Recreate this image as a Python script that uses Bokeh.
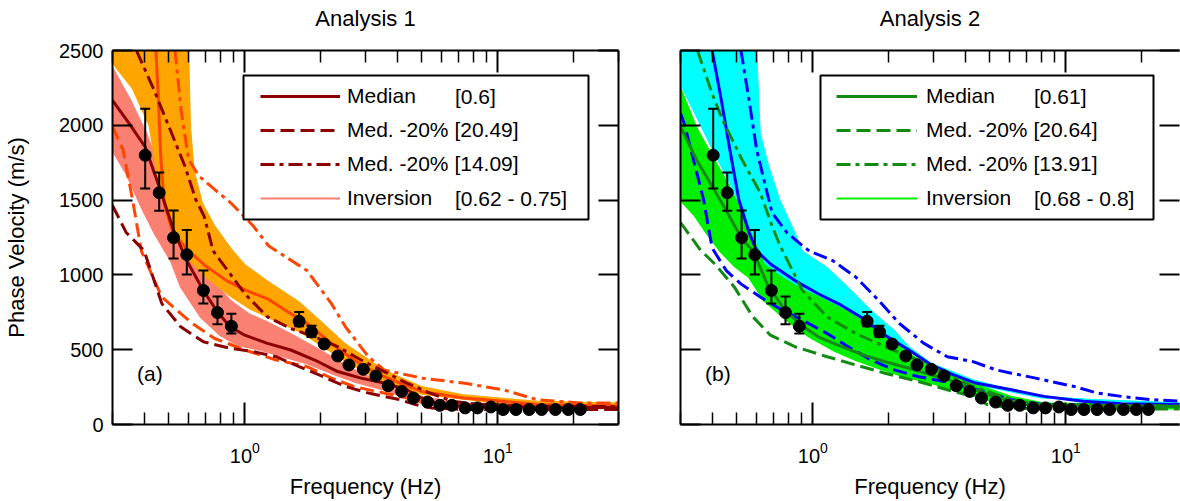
import numpy as np
from bokeh.plotting import figure
from bokeh.layouts import row
from bokeh.models import (LogAxis, LinearAxis, FixedTicker, Range1d, Legend,
                          LegendItem, Label, BoxAnnotation, Whisker, TeeHead, ColumnDataSource)
from bokeh.embed import file_html
from bokeh.resources import INLINE

# ---------------- observed dispersion data (same in both panels) ----------------
obs_freq = [0.404, 0.459, 0.523, 0.590, 0.686, 0.780, 0.885, 1.64, 1.835, 2.06, 2.33, 2.58,
            2.94, 3.30, 3.69, 4.17, 4.64, 5.28, 5.90, 6.58, 7.43, 8.31, 9.39, 10.5, 11.8,
            13.3, 14.9, 16.9, 19.0, 21.2]
obs_vel = [1800, 1549, 1249, 1135, 896, 748, 657, 690, 619, 538, 458, 398, 369, 325, 259,
           221, 177, 150, 128, 128, 111, 111, 117, 100, 100, 100, 100, 100, 100, 100]
nan = float("nan")
obs_err_low = [1578, 1429, 1110, 1002, 808, 670, 608, 657, 585] + [nan] * 21
obs_err_high = [2111, 1684, 1430, 1300, 1029, 856, 741, 752, 660] + [nan] * 21

# ---------------- Analysis 1 ----------------
a1_med_f = [0.3, 0.35, 0.404, 0.459, 0.523, 0.59, 0.686, 0.78, 0.875, 1.0, 1.23, 1.52, 1.89,
            2.33, 2.88, 3.55, 4.37, 5.0, 6.0, 7.1, 10.3, 14.3, 30]
a1_med_v = [2167, 2010, 1855, 1590, 1300, 1095, 896, 752, 653, 597, 542, 498, 431, 354, 310,
            277, 232, 177, 133, 122, 118, 115, 112]
a1_lo_f = [0.3, 0.34, 0.40, 0.47, 0.558, 0.686, 0.875, 1.08, 1.33, 1.64, 2.03, 2.5, 3.08,
           4.1, 4.73, 5.46, 7.3, 30]
a1_lo_v = [1464, 1283, 1162, 808, 653, 553, 509, 487, 453, 387, 321, 254, 210, 166, 133,
           111, 100, 100]
a1_hi_f = [0.373, 0.438, 0.52, 0.58, 0.64, 0.69, 0.75, 1.0, 1.23, 1.52, 1.89, 2.33, 2.88,
           3.55, 4.37, 5.4, 6.65, 8.5, 14.3, 30]
a1_hi_v = [2500, 2235, 1925, 1726, 1504, 1394, 1160, 874, 719, 641, 586, 520, 431, 354, 277,
           210, 155, 133, 122, 120]
a1b_med_f = [0.445, 0.455, 0.465, 0.48, 0.52, 0.6, 0.7, 0.85, 1.0, 1.23, 1.52, 1.76, 2.2,
             2.7, 3.3, 4.1, 5.0, 7.3, 10.5, 14.3, 30]
a1b_med_v = [2500, 2200, 1800, 1480, 1280, 1160, 1060, 960, 900, 840, 740, 676, 542, 431,
             343, 277, 221, 177, 155, 133, 122]
a1b_lo_f = [0.3, 0.33, 0.36, 0.39, 0.47, 0.62, 0.76, 1.0, 1.33, 1.76, 2.2, 2.7, 3.55, 5.0,
            7.3, 30]
a1b_lo_v = [1991, 1836, 1504, 1160, 852, 675, 575, 498, 431, 387, 310, 254, 210, 155, 133, 122]
a1b_hi_f = [0.53, 0.56, 0.6, 0.66, 0.76, 0.88, 1.08, 1.24, 1.33, 1.76, 2.2, 2.5, 3.08, 3.55,
            5.0, 7.3, 10.5, 14.3, 21, 30]
a1b_hi_v = [2500, 2100, 1770, 1659, 1571, 1482, 1327, 1195, 1162, 1029, 808, 653, 453, 365,
            310, 277, 232, 166, 144, 144]
# inversion envelopes
a1_inv_up_f = [0.3, 0.355, 0.41, 0.47, 0.52, 0.56, 0.69, 0.88, 1.04, 1.23, 1.52, 1.89, 2.33,
               2.88, 3.55, 4.37, 5.0, 7.3, 30]
a1_inv_up_v = [2389, 2167, 1944, 1678, 1411, 1200, 1029, 830, 741, 686, 608, 520, 431, 343,
               288, 232, 188, 144, 133]
a1_inv_lo_f = [0.3, 0.34, 0.39, 0.44, 0.51, 0.56, 0.67, 0.8, 0.94, 1.16, 1.43, 1.76, 2.2,
               2.7, 3.55, 4.37, 5.0, 7.3, 30]
a1_inv_lo_v = [1833, 1678, 1456, 1278, 1095, 918, 719, 597, 531, 498, 453, 409, 343, 288,
               232, 177, 144, 122, 111]
a1b_inv_up_f = [0.3, 0.6, 0.61, 0.63, 0.68, 0.76, 0.88, 1.0, 1.23, 1.64, 1.97, 2.5, 3.55, 5.0,
                7.3, 14.3, 30]
a1b_inv_up_v = [2500, 2500, 2000, 1700, 1480, 1330, 1180, 1070, 960, 820, 700, 540, 365, 254,
                199, 155, 144]
a1b_inv_lo_f = [0.3, 0.36, 0.42, 0.46, 0.5, 0.59, 0.7, 0.88, 1.05, 1.23, 1.64, 2.03, 2.5,
                3.55, 5.0, 10.5, 30]
a1b_inv_lo_v = [2420, 2250, 2000, 1600, 1350, 1120, 990, 860, 775, 720, 625, 525, 425, 285,
                205, 140, 128]

# ---------------- Analysis 2 ----------------
a2_med_f = [0.3, 0.347, 0.40, 0.46, 0.525, 0.58, 0.66, 0.76, 0.88, 1.05, 1.3, 1.58, 1.93,
            2.4, 2.94, 3.6, 4.4, 5.4, 6.9, 9.9, 30]
a2_med_v = [1991, 1770, 1593, 1416, 1239, 1160, 940, 785, 675, 586, 520, 465, 420, 376, 332,
            288, 232, 177, 139, 126, 122]
a2_lo_f = [0.3, 0.36, 0.41, 0.49, 0.58, 0.68, 0.85, 1.14, 1.48, 1.93, 2.6, 3.4, 4.3, 4.9,
           6.1, 8.2, 30]
a2_lo_v = [1350, 1165, 1073, 918, 719, 597, 520, 453, 398, 343, 288, 232, 188, 133, 111,
           104, 104]
a2_hi_f = [0.35, 0.40, 0.44, 0.525, 0.62, 0.69, 0.74, 0.91, 1.14, 1.48, 1.93, 2.6, 3.4, 4.3,
           5.3, 6.6, 8.2, 30]
a2_hi_v = [2500, 2212, 2035, 1770, 1549, 1327, 1200, 896, 719, 608, 520, 431, 332, 254, 199,
           155, 133, 122]
a2b_med_f = [0.40, 0.435, 0.47, 0.51, 0.56, 0.6, 0.68, 0.85, 1.05, 1.3, 1.58, 1.93, 2.4,
             2.94, 3.6, 4.4, 6.1, 8.2, 11.7, 16.6, 30]
a2b_med_v = [2500, 2167, 1836, 1504, 1283, 1160, 1073, 962, 874, 796, 708, 597, 498, 398,
             332, 277, 232, 188, 155, 139, 133]
a2b_lo_f = [0.3, 0.31, 0.33, 0.37, 0.40, 0.455, 0.52, 0.62, 0.74, 0.91, 1.14, 1.38, 1.7, 2.1,
            2.6, 3.3, 4.0, 5.0, 6.1, 8.2, 30]
a2b_lo_v = [2080, 2013, 1836, 1504, 1180, 1029, 940, 852, 774, 697, 608, 520, 431, 365, 321,
            288, 254, 210, 166, 133, 122]
a2b_hi_f = [0.52, 0.56, 0.60, 0.65, 0.69, 0.79, 0.91, 0.97, 1.2, 1.48, 1.82, 2.2, 2.75, 3.4,
            4.3, 5.3, 6.1, 7.6, 9.3, 10.8, 13.3, 16.6, 21.6, 30]
a2b_hi_v = [2500, 2167, 1836, 1593, 1416, 1283, 1195, 1160, 1095, 985, 830, 675, 542, 453,
            420, 365, 343, 310, 277, 254, 210, 188, 166, 155]
a2_inv_up_f = [0.3, 0.347, 0.40, 0.46, 0.525, 0.6, 0.68, 0.85, 1.05, 1.3, 1.58, 1.93, 2.4,
               2.94, 4.3, 6.1, 8.2, 30]
a2_inv_up_v = [2257, 1990, 1800, 1620, 1430, 1250, 1130, 985, 874, 790, 710, 600, 476, 387,
               277, 188, 144, 133]
a2_inv_lo_f = [0.3, 0.34, 0.38, 0.43, 0.49, 0.56, 0.64, 0.79, 0.97, 1.2, 1.48, 1.82, 2.3,
               2.94, 3.6, 4.4, 5.4, 8.2, 30]
a2_inv_lo_v = [1500, 1400, 1280, 1160, 1060, 985, 830, 697, 586, 498, 431, 376, 321, 277,
               232, 188, 144, 122, 104]
a2b_inv_up_f = [0.3, 0.6, 0.62, 0.67, 0.74, 0.85, 0.91, 1.14, 1.38, 1.7, 2.1, 2.4, 2.94, 4.3,
                6.1, 8.2, 12.4, 30]
a2b_inv_up_v = [2500, 2500, 1947, 1726, 1504, 1283, 1160, 1050, 918, 763, 630, 520, 409,
                299, 232, 188, 166, 144]
a2b_inv_lo_f = [0.3, 0.35, 0.40, 0.46, 0.525, 0.58, 0.65, 0.75, 0.9, 1.1, 1.4, 1.8, 2.2,
                2.8, 3.6, 5.0, 8.0, 30]
a2b_inv_lo_v = [2280, 2050, 1850, 1650, 1450, 1280, 1080, 1000, 920, 850, 760, 640, 540,
                420, 330, 250, 180, 135]

y_ticks = [0, 500, 1000, 1500, 2000, 2500]
x_major_ticks = [1, 10]
x_minor_ticks = [0.3, 0.4, 0.5, 0.6, 0.7, 0.8, 0.9, 2, 3, 4, 5, 6, 7, 8, 9, 20, 30]

# ---------------- layout constants ----------------
FONT = "Liberation Sans"
X_MIN = 0.3
DEC_PX = 253.0
FRAME_TOP, FRAME_BOTTOM = 50, 424
DASHED = "14 6"
DASHDOT = "14 5 4 5"


def px_to_f(px_rel):
    return X_MIN * 10 ** (px_rel / DEC_PX)


def py_to_v(py):
    return (FRAME_BOTTOM - py) * 2500.0 / (FRAME_BOTTOM - FRAME_TOP)


def style_axis(ax, tick_in, minor_in, labels=True):
    ax.axis_line_width = 2
    ax.axis_line_color = "black"
    ax.major_tick_line_width = 2
    ax.major_tick_line_color = "black"
    ax.minor_tick_line_width = 1.5
    ax.minor_tick_line_color = "black"
    ax.major_tick_in = tick_in
    ax.major_tick_out = 0
    ax.minor_tick_in = minor_in
    ax.minor_tick_out = 0
    ax.major_label_text_font = FONT
    ax.major_label_text_color = "black"
    ax.axis_label_text_font = FONT
    ax.axis_label_text_font_style = "normal"
    ax.axis_label_text_color = "black"
    if labels:
        ax.major_label_text_font_size = "20px"
    else:
        ax.major_label_text_font_size = "1px"
        ax.major_label_text_alpha = 0
        ax.major_label_standoff = 0


def build_panel(cfg):
    p = figure(width=cfg["width"], height=501, x_axis_type="log",
               x_range=Range1d(X_MIN, cfg["xmax"]), y_range=Range1d(0, 2500),
               min_border_left=cfg["border_left"], min_border_right=cfg["border_right"],
               min_border_top=50, min_border_bottom=77,
               toolbar_location=None, output_backend="svg")
    p.outline_line_color = None
    p.xgrid.visible = False
    p.ygrid.visible = False
    p.background_fill_color = "white"
    p.border_fill_color = "white"

    # inversion bands
    inv_line = None
    for up_f, up_v, lo_f, lo_v, color in cfg["bands"]:
        xs = list(up_f) + list(lo_f)[::-1]
        ys = list(up_v) + list(lo_v)[::-1]
        p.patch(xs, ys, fill_color=color, line_color=color, line_width=1)
        r = p.line(lo_f, lo_v, line_color=color, line_width=2)
        if inv_line is None:
            inv_line = r

    # median / +-20 % curves
    rends = []
    for f, v, color, dash in cfg["lines"]:
        rends.append(p.line(f, v, line_color=color, line_width=3, line_dash=dash))

    # observations
    f_arr = np.array(obs_freq)
    lo_arr = np.array(obs_err_low)
    hi_arr = np.array(obs_err_high)
    m = ~np.isnan(lo_arr)
    src = ColumnDataSource(dict(f=f_arr[m], lo=lo_arr[m], hi=hi_arr[m]))
    wh = Whisker(source=src, base="f", lower="lo", upper="hi", dimension="height",
                 line_color="black", line_width=2, level="overlay",
                 upper_head=TeeHead(size=10, line_color="black", line_width=2),
                 lower_head=TeeHead(size=10, line_color="black", line_width=2))
    p.add_layout(wh)
    p.scatter(obs_freq, obs_vel, size=12, marker="circle", fill_color="black",
              line_color="black", level="overlay")

    # axes
    xb = p.xaxis[0]
    xb.ticker = FixedTicker(ticks=x_major_ticks, minor_ticks=x_minor_ticks)
    style_axis(xb, 22, 12)
    xb.axis_label = "Frequency (Hz)"
    xb.axis_label_text_font_size = "22px"
    xb.major_label_standoff = 17
    xb.axis_label_standoff = 8

    xt = LogAxis(ticker=FixedTicker(ticks=x_major_ticks, minor_ticks=x_minor_ticks),
                 axis_label=cfg["title"])
    style_axis(xt, 22, 12, labels=False)
    xt.axis_label_text_font_size = "22px"
    xt.axis_label_standoff = 20
    p.add_layout(xt, "above")

    yl = p.yaxis[0]
    yl.ticker = FixedTicker(ticks=y_ticks)
    style_axis(yl, 20, 0, labels=cfg["ylabels"])
    if cfg["ylabels"]:
        yl.axis_label = "Phase Velocity (m/s)"
        yl.axis_label_text_font_size = "22px"
        yl.major_label_standoff = 9
        yl.axis_label_standoff = 27

    yr = LinearAxis(ticker=FixedTicker(ticks=y_ticks))
    style_axis(yr, 20, 0, labels=False)
    if cfg["hide_right_line"]:
        yr.axis_line_alpha = 0
    p.add_layout(yr, "right")

    # legend frame
    lg = cfg["legend"]
    box = BoxAnnotation(left=px_to_f(lg["box"][0]), right=px_to_f(lg["box"][1]),
                        top=py_to_v(lg["box"][2]), bottom=py_to_v(lg["box"][3]),
                        fill_color="white", fill_alpha=1.0, line_color="black",
                        line_width=2, line_alpha=1.0)
    p.add_layout(box)
    items = [LegendItem(label=lg["labels"][0], renderers=[rends[3]]),
             LegendItem(label=lg["labels"][1], renderers=[rends[4]]),
             LegendItem(label=lg["labels"][2], renderers=[rends[5]]),
             LegendItem(label=lg["labels"][3], renderers=[inv_line])]
    leg = Legend(items=items, location=(lg["glyph_x"], lg["vy"]), padding=0, margin=0,
                 spacing=10, glyph_width=lg["glyph_w"], glyph_height=24, label_height=24,
                 label_standoff=lg["standoff"], label_text_font=FONT,
                 label_text_font_size="21px", label_text_color="black",
                 border_line_alpha=0, background_fill_alpha=0)
    p.add_layout(leg, "center")
    for text, row_y in zip(lg["brackets"], lg["bracket_rows"]):
        p.add_layout(Label(x=px_to_f(lg["bracket_x"]), y=py_to_v(row_y), text=text,
                           text_font=FONT, text_font_size="21px", text_color="black",
                           text_baseline="middle", text_align="left"))

    p.add_layout(Label(x=0.375, y=340, text=cfg["tag"], text_font=FONT,
                       text_font_size="21px", text_color="black",
                       text_baseline="middle", text_align="left"))
    return p


SALMON, ORANGE, DARKRED, ORANGERED = "#FA8072", "#FFA500", "#8B0000", "#FF4500"
LIME, CYAN, DKGREEN, BLUE = "#00F000", "#00FFFF", "#138A13", "#0000FF"

cfg1 = dict(
    width=650, border_left=112, border_right=32, xmax=30.0, title="Analysis 1",
    ylabels=True, hide_right_line=False, tag="(a)",
    bands=[(a1_inv_up_f, a1_inv_up_v, a1_inv_lo_f, a1_inv_lo_v, SALMON),
           (a1b_inv_up_f, a1b_inv_up_v, a1b_inv_lo_f, a1b_inv_lo_v, ORANGE)],
    lines=[(a1b_lo_f, a1b_lo_v, ORANGERED, DASHED),
           (a1b_hi_f, a1b_hi_v, ORANGERED, DASHDOT),
           (a1b_med_f, a1b_med_v, ORANGERED, "solid"),
           (a1_med_f, a1_med_v, DARKRED, "solid"),
           (a1_lo_f, a1_lo_v, DARKRED, DASHED),
           (a1_hi_f, a1_hi_v, DARKRED, DASHDOT)],
    legend=dict(box=(131, 476, 75, 219), glyph_x=148, glyph_w=80, standoff=7, vy=214,
                labels=["Median", "Med. -20% [20.49]", "Med. -20% [14.09]", "Inversion"],
                brackets=["[0.6]", "[0.62 - 0.75]"], bracket_rows=[96, 198],
                bracket_x=342.5),
)
cfg2 = dict(
    width=530, border_left=30, border_right=1, xmax=X_MIN * 10 ** (499 / DEC_PX),
    title="Analysis 2", ylabels=False, hide_right_line=True, tag="(b)",
    bands=[(a2_inv_up_f, a2_inv_up_v, a2_inv_lo_f, a2_inv_lo_v, LIME),
           (a2b_inv_up_f, a2b_inv_up_v, a2b_inv_lo_f, a2b_inv_lo_v, CYAN)],
    lines=[(a2b_lo_f, a2b_lo_v, BLUE, DASHED),
           (a2b_hi_f, a2b_hi_v, BLUE, DASHDOT),
           (a2b_med_f, a2b_med_v, BLUE, "solid"),
           (a2_med_f, a2_med_v, DKGREEN, "solid"),
           (a2_lo_f, a2_lo_v, DKGREEN, DASHED),
           (a2_hi_f, a2_hi_v, DKGREEN, DASHDOT)],
    legend=dict(box=(140, 473, 75, 219), glyph_x=156, glyph_w=81, standoff=9, vy=214,
                labels=["Median", "Med. -20% [20.64]", "Med. -20% [13.91]", "Inversion"],
                brackets=["[0.61]", "[0.68 - 0.8]"], bracket_rows=[96, 198],
                bracket_x=353.5),
)

p1 = build_panel(cfg1)
p2 = build_panel(cfg2)
layout = row(p1, p2)

open("out.html", "w").write(file_html(layout, INLINE))
